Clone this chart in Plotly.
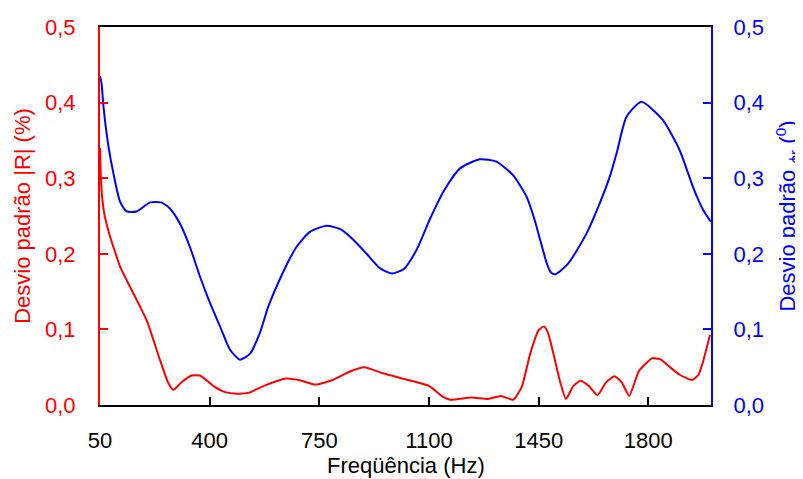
import plotly.graph_objects as go

# Red series: std dev of |R| (%) vs frequency (Hz) - left axis
freq_r = [50, 53, 58, 65, 82, 100, 114, 146, 178, 201, 241, 268, 284, 310, 342, 369, 416, 450, 490, 523,
          577, 644, 685, 738, 792, 846, 893, 953, 1034, 1101, 1140, 1168, 1235, 1289, 1329, 1369, 1396,
          1423, 1450, 1467, 1480, 1497, 1517, 1537, 1560, 1584, 1610, 1638, 1665, 1692, 1715, 1739, 1770,
          1813, 1840, 1866, 1900, 1940, 1960, 1973, 1997]
std_r = [0.34, 0.30, 0.27, 0.25, 0.223, 0.20, 0.183, 0.156, 0.13, 0.11, 0.06, 0.029, 0.02, 0.03, 0.039, 0.039,
         0.024, 0.017, 0.015, 0.016, 0.026, 0.035, 0.033, 0.027, 0.033, 0.044, 0.05, 0.042, 0.033, 0.025,
         0.012, 0.007, 0.01, 0.008, 0.012, 0.007, 0.024, 0.068, 0.099, 0.104, 0.095, 0.068, 0.033, 0.008,
         0.025, 0.032, 0.025, 0.013, 0.03, 0.038, 0.03, 0.012, 0.045, 0.062, 0.06, 0.051, 0.04, 0.033,
         0.04, 0.055, 0.093]

# Blue series: std dev of phase (degrees) vs frequency (Hz) - right axis
freq_phi = [50, 55, 61, 77, 93, 114, 135, 167, 210, 245, 273, 305, 337, 369, 401, 433, 465, 497, 529, 560,
            587, 630, 677, 720, 773, 820, 860, 901, 943, 981, 1020, 1060, 1103, 1150, 1199, 1262, 1315,
            1368, 1411, 1437, 1459, 1477, 1490, 1503, 1544, 1603, 1645, 1677, 1700, 1730, 1778, 1846, 1900,
            1942, 1975, 2000]
std_phi = [0.435, 0.425, 0.395, 0.342, 0.306, 0.269, 0.256, 0.256, 0.268, 0.268, 0.26, 0.24, 0.209, 0.17,
           0.135, 0.104, 0.073, 0.06, 0.068, 0.095, 0.13, 0.172, 0.209, 0.229, 0.237, 0.232, 0.218, 0.2,
           0.181, 0.174, 0.18, 0.205, 0.246, 0.285, 0.313, 0.325, 0.322, 0.304, 0.276, 0.245, 0.212, 0.186,
           0.175, 0.173, 0.187, 0.227, 0.267, 0.302, 0.335, 0.381, 0.401, 0.377, 0.337, 0.289, 0.258, 0.242]

x_ticks = [50, 400, 750, 1100, 1450, 1800]
y_ticks = [0.0, 0.1, 0.2, 0.3, 0.4, 0.5]
x_title = "Freqüência (Hz)"
y_title = "Desvio padrão |R| (%)"
y2_title = "Desvio padrão <sub>ϕr</sub> (<sup>0</sup>)"

FONT = "Liberation Sans, Arial, sans-serif"
RED = "#ff0000"
BLUE = "#0000ff"

fig = go.Figure()
fig.add_trace(go.Scatter(x=freq_r, y=std_r, mode="lines",
                         line=dict(color=RED, width=2, shape="spline", smoothing=0.5),
                         yaxis="y", showlegend=False))
fig.add_trace(go.Scatter(x=freq_phi, y=std_phi, mode="lines",
                         line=dict(color=BLUE, width=2, shape="spline", smoothing=0.6),
                         yaxis="y2", showlegend=False))

# page body has an 8px default margin, so the figure is sized to fit the window
fig.update_layout(
    width=795, height=471,
    margin=dict(l=92, r=92, t=19, b=74, autoexpand=False),
    paper_bgcolor="white", plot_bgcolor="white",
    separators=",.",
    font=dict(family=FONT, size=22, color="black"),
    xaxis=dict(range=[50, 2000], tickvals=x_ticks, ticktext=[str(v) for v in x_ticks],
               ticks="inside", ticklen=8, tickwidth=2, tickcolor="black",
               showline=True, linecolor="black", linewidth=2, mirror=True,
               showgrid=False, zeroline=False, ticklabelstandoff=15, automargin=False,
               tickfont=dict(size=22)),
    yaxis=dict(range=[0, 0.5], tickvals=y_ticks, tickformat=".1f",
               ticks="inside", ticklen=8, tickwidth=2, tickcolor=RED,
               showline=True, linecolor=RED, linewidth=2, automargin=False,
               showgrid=False, zeroline=False, ticklabelstandoff=18,
               tickfont=dict(color=RED, size=22),
               title=dict(text=y_title, font=dict(color=RED, size=22), standoff=8)),
    yaxis2=dict(range=[0, 0.5], tickvals=y_ticks, tickformat=".1f", overlaying="y", side="right",
                ticks="inside", ticklen=8, tickwidth=2, tickcolor=BLUE,
                showline=True, linecolor=BLUE, linewidth=2, automargin=False,
                showgrid=False, zeroline=False, ticklabelstandoff=16,
                tickfont=dict(color=BLUE, size=22),
                title=dict(text=y2_title, font=dict(color=BLUE, size=22), standoff=18)),
    annotations=[dict(text=x_title, xref="paper", yref="paper", x=0.5, y=-0.161,
                      xanchor="center", yanchor="middle", showarrow=False,
                      font=dict(family=FONT, size=22, color="black"))],
)

fig.write_html("out.html")
